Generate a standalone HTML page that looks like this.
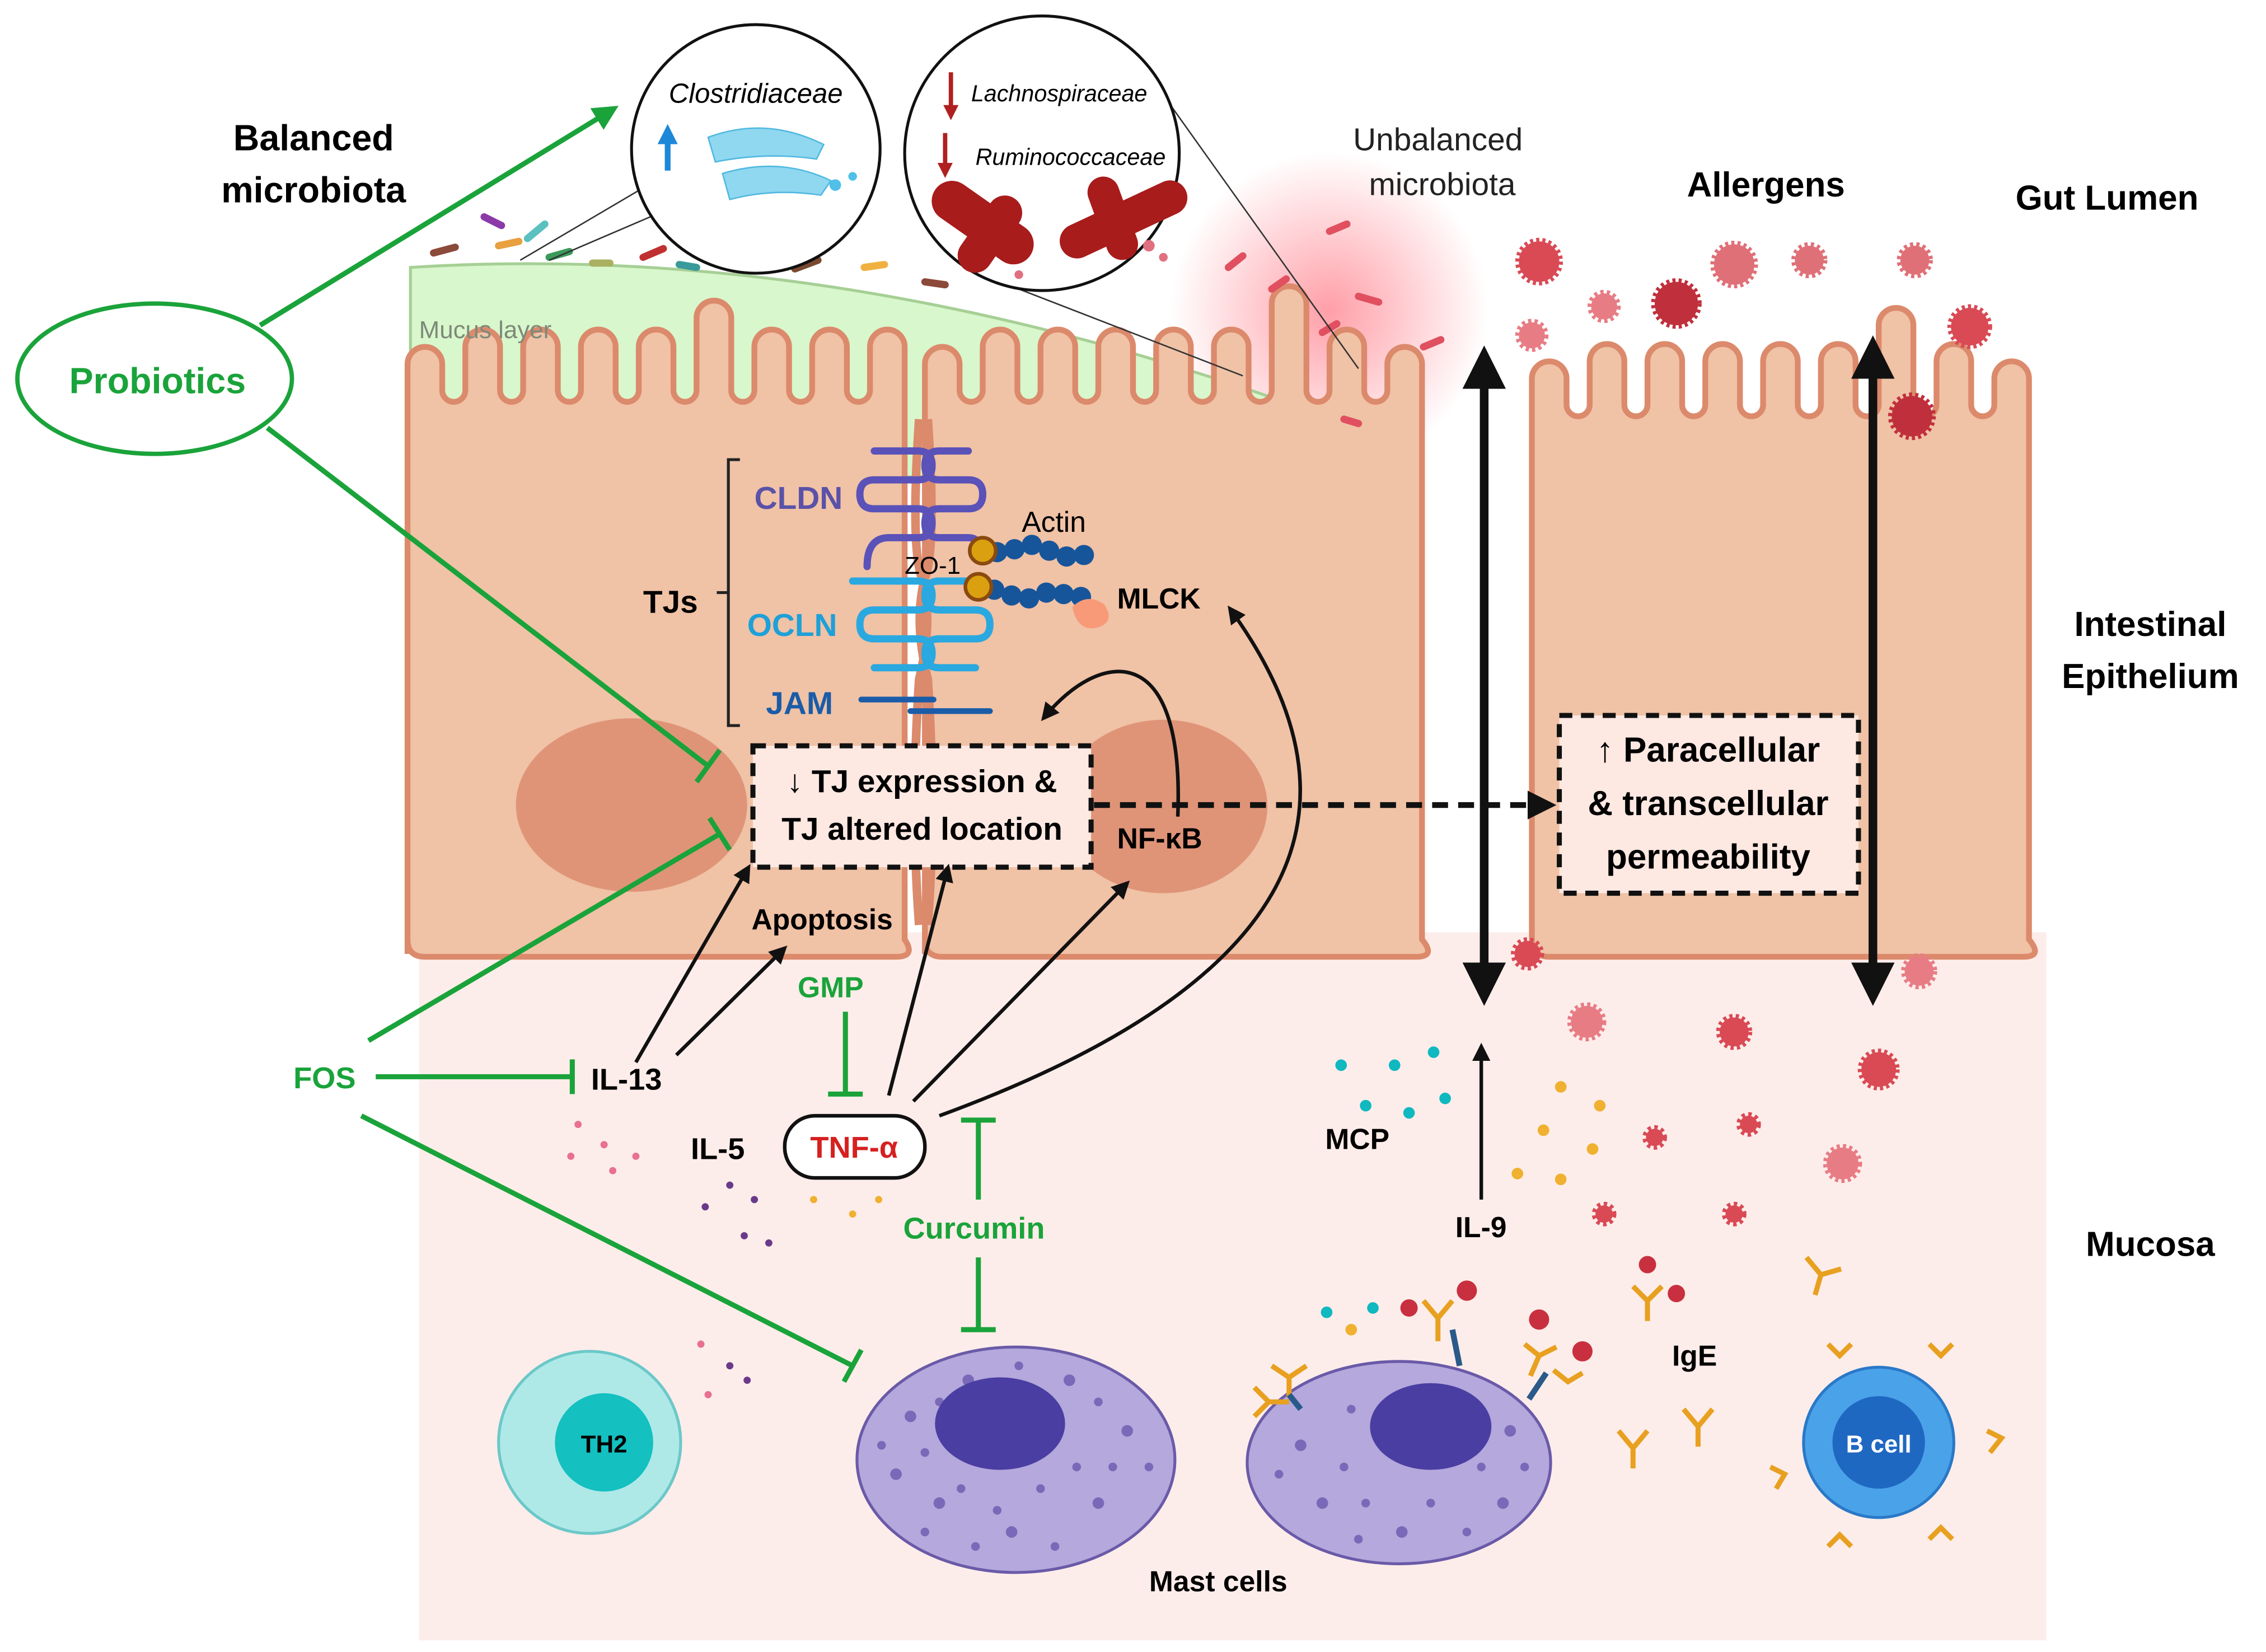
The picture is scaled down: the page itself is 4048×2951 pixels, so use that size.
<!DOCTYPE html>
<html><head><meta charset="utf-8"><style>
html,body{margin:0;padding:0;background:#fff}
svg{display:block}
text{font-family:"Liberation Sans",Arial,sans-serif}
.b{font-weight:bold}
</style></head><body>
<svg width="4048" height="2951" viewBox="0 0 1568 1143" xmlns="http://www.w3.org/2000/svg">
<defs>
<radialGradient id="glow" cx="0.5" cy="0.5" r="0.5">
<stop offset="0" stop-color="#ff5060" stop-opacity="0.55"/>
<stop offset="1" stop-color="#ff5060" stop-opacity="0"/>
</radialGradient>
<marker id="ah" viewBox="0 0 10 10" refX="8" refY="5" markerWidth="5" markerHeight="5" orient="auto-start-reverse"><path d="M0 0L10 5L0 10z" fill="#111"/></marker>
<marker id="ahg" viewBox="0 0 10 10" refX="8" refY="5" markerWidth="5" markerHeight="5" orient="auto"><path d="M0 0L10 5L0 10z" fill="#1aa33a"/></marker>
<marker id="ahblue" viewBox="0 0 10 10" refX="7" refY="5" markerWidth="3.5" markerHeight="3.5" orient="auto"><path d="M0 0L10 5L0 10z" fill="#1e88d8"/></marker>
<marker id="ahred" viewBox="0 0 10 10" refX="7" refY="5" markerWidth="3.5" markerHeight="3.5" orient="auto"><path d="M0 0L10 5L0 10z" fill="#b02020"/></marker>
</defs>
<rect width="1568" height="1143" fill="#fff"/>
<rect x="290" y="645" width="1126" height="490" fill="#fdedea"/>
<circle cx="920" cy="215" r="110" fill="url(#glow)"/>
<path d="M284 185 Q600 165 948 300 L948 330 L284 330 Z" fill="#d8f7cc" stroke="#a6cf95" stroke-width="2"/>
<g fill="#f0c2a6" stroke="#dc8a6c" stroke-width="4">
<path d="M282 660 V270 v-18 a12 12 0 0 1 24 0 v18 a8 8 0 0 0 16 0 v-30 a12 12 0 0 1 24 0 v30 a8 8 0 0 0 16 0 v-30 a12 12 0 0 1 24 0 v30 a8 8 0 0 0 16 0 v-30 a12 12 0 0 1 24 0 v30 a8 8 0 0 0 16 0 v-30 a12 12 0 0 1 24 0 v30 a8 8 0 0 0 16 0 v-50 a12 12 0 0 1 24 0 v50 a8 8 0 0 0 16 0 v-30 a12 12 0 0 1 24 0 v30 a8 8 0 0 0 16 0 v-30 a12 12 0 0 1 24 0 v30 a8 8 0 0 0 16 0 v-30 a12 12 0 0 1 24 0 V650 Q634 662 620 662 H294 Q282 662 282 650 Z"/>
<path d="M640 660 V270 v-18 a12 12 0 0 1 24 0 v18 a8 8 0 0 0 16 0 v-30 a12 12 0 0 1 24 0 v30 a8 8 0 0 0 16 0 v-30 a12 12 0 0 1 24 0 v30 a8 8 0 0 0 16 0 v-30 a12 12 0 0 1 24 0 v30 a8 8 0 0 0 16 0 v-30 a12 12 0 0 1 24 0 v30 a8 8 0 0 0 16 0 v-30 a12 12 0 0 1 24 0 v30 a8 8 0 0 0 16 0 v-60 a12 12 0 0 1 24 0 v60 a8 8 0 0 0 16 0 v-30 a12 12 0 0 1 24 0 v30 a8 8 0 0 0 16 0 v-18 a12 12 0 0 1 24 0 V650 Q994 662 980 662 H652 Q640 662 640 650 Z"/>
<path d="M1060 660 V280 v-18 a12 12 0 0 1 24 0 v18 a8 8 0 0 0 16 0 v-30 a12 12 0 0 1 24 0 v30 a8 8 0 0 0 16 0 v-30 a12 12 0 0 1 24 0 v30 a8 8 0 0 0 16 0 v-30 a12 12 0 0 1 24 0 v30 a8 8 0 0 0 16 0 v-30 a12 12 0 0 1 24 0 v30 a8 8 0 0 0 16 0 v-30 a12 12 0 0 1 24 0 v30 a8 8 0 0 0 16 0 v-55 a12 12 0 0 1 24 0 v55 a8 8 0 0 0 16 0 v-30 a12 12 0 0 1 24 0 v30 a8 8 0 0 0 16 0 v-18 a12 12 0 0 1 24 0 V650 Q1414 662 1400 662 H1072 Q1060 662 1060 650 Z"/>
</g>
<ellipse cx="437" cy="557" rx="80" ry="60" fill="#df9478"/>
<ellipse cx="805" cy="558" rx="72" ry="60" fill="#df9478"/>
<text x="290" y="234" font-size="17" fill="#7d8a78">Mucus layer</text>
<g stroke-linecap="round" stroke-width="5" fill="none">
<path d="M300 175 l15 -4" stroke="#8b4a3a"/><path d="M335 150 l12 6" stroke="#8b3aa8"/><path d="M345 170 l14 -3" stroke="#e8a040"/>
<path d="M365 165 l12 -10" stroke="#5bc0c0"/><path d="M380 178 l14 -4" stroke="#3a9a5a"/><path d="M410 182 l12 0" stroke="#aab060"/>
<path d="M445 178 l14 -6" stroke="#c03030"/><path d="M470 183 l12 2" stroke="#3a9a9a"/><path d="M520 180 l12 -3" stroke="#888"/>
<path d="M550 186 l16 -6" stroke="#7a4a30"/><path d="M598 185 l14 -2" stroke="#f0b040"/><path d="M640 195 l14 2" stroke="#8b4a3a"/>
<path d="M850 185 l10 -8" stroke="#e05060"/><path d="M880 200 l10 -7" stroke="#e05060"/><path d="M920 160 l12 -5" stroke="#e05060"/>
<path d="M940 205 l14 4" stroke="#e05060"/><path d="M915 230 l10 -6" stroke="#e05060"/><path d="M985 240 l12 -5" stroke="#e05060"/><path d="M930 290 l10 3" stroke="#e05060"/>
</g>
<line x1="360" y1="180" x2="445" y2="130" stroke="#333" stroke-width="1"/>
<line x1="380" y1="180" x2="450" y2="150" stroke="#333" stroke-width="1"/>
<circle cx="523" cy="103" r="86" fill="#fff" stroke="#111" stroke-width="2"/>
<text x="523" y="71" font-size="19" font-style="italic" text-anchor="middle">Clostridiaceae</text>
<path d="M462 118 V90" stroke="#1e88d8" stroke-width="4" marker-end="url(#ahblue)"/>
<path d="M490 95 Q530 80 570 100 L565 110 Q530 105 495 112 Z" fill="#8fd8f0" stroke="#50b8e0"/>
<path d="M500 120 Q540 108 575 125 L568 135 Q535 130 505 138 Z" fill="#8fd8f0" stroke="#50b8e0"/>
<circle cx="578" cy="128" r="4" fill="#50c0e8"/><circle cx="590" cy="122" r="3" fill="#50c0e8"/>
<line x1="808" y1="70" x2="940" y2="255" stroke="#333" stroke-width="1"/>
<line x1="700" y1="198" x2="860" y2="260" stroke="#333" stroke-width="1"/>
<circle cx="721" cy="106" r="95" fill="#fff" stroke="#111" stroke-width="2"/>
<path d="M658 50 V80" stroke="#b02020" stroke-width="3" marker-end="url(#ahred)"/>
<path d="M654 92 V120" stroke="#b02020" stroke-width="3" marker-end="url(#ahred)"/>
<text x="672" y="70" font-size="16" font-style="italic">Lachnospiraceae</text>
<text x="675" y="114" font-size="16" font-style="italic">Ruminococcaceae</text>
<g fill="#a81c1c"><rect x="640" y="140" width="80" height="28" rx="14" transform="rotate(35 680 154)"/><rect x="655" y="150" width="60" height="24" rx="12" transform="rotate(-55 685 162)"/>
<rect x="730" y="140" width="95" height="24" rx="12" transform="rotate(-25 777 152)"/><rect x="740" y="140" width="60" height="22" rx="11" transform="rotate(70 770 151)"/></g>
<circle cx="795" cy="170" r="4" fill="#e07080"/><circle cx="805" cy="178" r="3" fill="#e07080"/><circle cx="705" cy="190" r="3" fill="#e07080"/>
<text x="217" y="104" font-size="25" class="b" text-anchor="middle">Balanced</text>
<text x="217" y="140" font-size="25" class="b" text-anchor="middle">microbiota</text>
<text x="995" y="104" font-size="22" text-anchor="middle" fill="#222">Unbalanced</text>
<text x="998" y="135" font-size="22" text-anchor="middle" fill="#222">microbiota</text>
<text x="1222" y="136" font-size="24" class="b" text-anchor="middle">Allergens</text>
<text x="1458" y="145" font-size="24" class="b" text-anchor="middle">Gut Lumen</text>
<text x="1488" y="440" font-size="24" class="b" text-anchor="middle">Intestinal</text>
<text x="1488" y="476" font-size="24" class="b" text-anchor="middle">Epithelium</text>
<text x="1488" y="869" font-size="24" class="b" text-anchor="middle">Mucosa</text>
<g fill="#d94a55" stroke="#d94a55" stroke-width="5" stroke-dasharray="2 2">
<circle cx="1065" cy="181" r="14"/><circle cx="1110" cy="212" r="9" fill="#e87c84" stroke="#e87c84"/><circle cx="1160" cy="210" r="15" fill="#c0303c" stroke="#c0303c"/>
<circle cx="1200" cy="183" r="14" fill="#e07078" stroke="#e07078"/><circle cx="1252" cy="180" r="10" fill="#e07078" stroke="#e07078"/><circle cx="1325" cy="180" r="10" fill="#e07078" stroke="#e07078"/>
<circle cx="1363" cy="226" r="13"/><circle cx="1323" cy="288" r="14" fill="#c0303c" stroke="#c0303c"/><circle cx="1060" cy="232" r="9" fill="#e87c84" stroke="#e87c84"/>
<circle cx="1057" cy="660" r="9"/><circle cx="1328" cy="672" r="10" fill="#e87c84" stroke="#e87c84"/><circle cx="1098" cy="707" r="11" fill="#e87c84" stroke="#e87c84"/>
<circle cx="1200" cy="714" r="10"/><circle cx="1300" cy="740" r="12"/><circle cx="1145" cy="787" r="6"/><circle cx="1210" cy="778" r="6"/>
<circle cx="1275" cy="805" r="11" fill="#e87c84" stroke="#e87c84"/><circle cx="1110" cy="840" r="6"/><circle cx="1200" cy="840" r="6"/>
</g>
<path d="M512 318 h-8 V502 h8 M504 410 h-8" fill="none" stroke="#222" stroke-width="2"/>
<text x="445" y="424" font-size="22" class="b">TJs</text>
<text x="522" y="352" font-size="22" class="b" fill="#5a52a8">CLDN</text>
<text x="517" y="440" font-size="22" class="b" fill="#1ea0d8">OCLN</text>
<text x="530" y="494" font-size="22" class="b" fill="#1a5ca8">JAM</text>
<path d="M636 290 Q630 380 638 400 Q646 430 636 470 Q630 560 636 640" stroke="#dc8a6c" stroke-width="6" fill="none"/>
<path d="M642 290 Q648 380 640 400 Q632 430 642 470 Q648 560 642 640" stroke="#dc8a6c" stroke-width="6" fill="none"/>
<g fill="none" stroke-width="5" stroke-linecap="round">
<path d="M605 312 h30 q10 0 10 10 q0 10 -10 10 h-30 q-10 0 -10 10 q0 10 10 10 h30 q10 0 10 10 q0 10 -10 10 h-20 q-15 0 -15 20" stroke="#5a52b8"/>
<path d="M670 312 h-20 q-10 0 -10 10 q0 10 10 10 h20 q10 0 10 10 q0 10 -10 10 h-20 q-10 0 -10 10 q0 10 10 10 h20 q10 0 10 15" stroke="#5a52b8"/>
<path d="M590 402 h45 q10 0 10 10 q0 10 -10 10 h-30 q-10 0 -10 10 q0 10 10 10 h30 q10 0 10 10 q0 10 -10 10 h-30" stroke="#2aa8e0"/>
<path d="M675 402 h-25 q-10 0 -10 10 q0 10 10 10 h25 q10 0 10 10 q0 10 -10 10 h-25 q-10 0 -10 10 q0 10 10 10 h25" stroke="#2aa8e0"/>
<path d="M596 484 h50 M630 492 h55" stroke="#1a5ca8" stroke-width="4"/>
</g>
<g fill="#17559a"><circle cx="690" cy="382" r="7"/><circle cx="702" cy="380" r="7"/><circle cx="714" cy="377" r="7"/><circle cx="726" cy="381" r="7"/><circle cx="738" cy="385" r="7"/><circle cx="750" cy="384" r="7"/>
<circle cx="688" cy="408" r="7"/><circle cx="700" cy="412" r="7"/><circle cx="712" cy="414" r="7"/><circle cx="724" cy="410" r="7"/><circle cx="736" cy="411" r="7"/><circle cx="748" cy="413" r="7"/></g>
<path d="M742 420 q10 -10 22 -2 q8 12 -4 16 q-14 4 -18 -14z" fill="#f89a78"/>
<circle cx="680" cy="381" r="9" fill="#daa010" stroke="#8a4a10" stroke-width="2.5"/>
<circle cx="677" cy="406" r="9" fill="#daa010" stroke="#8a4a10" stroke-width="2.5"/>
<text x="707" y="368" font-size="20">Actin</text>
<text x="626" y="397" font-size="17">ZO-1</text>
<text x="773" y="421" font-size="20" class="b">MLCK</text>
<rect x="521" y="516" width="234" height="84" fill="#fde8e2" stroke="#111" stroke-width="3.5" stroke-dasharray="9 6"/>
<text x="638" y="548" font-size="22" class="b" text-anchor="middle">↓ TJ expression &amp;</text>
<text x="638" y="581" font-size="22" class="b" text-anchor="middle">TJ altered location</text>
<rect x="1079" y="495" width="207" height="123" fill="#fde8e2" stroke="#111" stroke-width="3.5" stroke-dasharray="9 6"/>
<text x="1182" y="527" font-size="24" class="b" text-anchor="middle">↑ Paracellular</text>
<text x="1182" y="564" font-size="24" class="b" text-anchor="middle">&amp; transcellular</text>
<text x="1182" y="601" font-size="24" class="b" text-anchor="middle">permeability</text>
<text x="773" y="587" font-size="20" class="b">NF-κB</text>
<text x="520" y="643" font-size="20" class="b">Apoptosis</text>
<g stroke="#111" stroke-width="2.5" fill="none" marker-end="url(#ah)">
<path d="M815 565 C820 440 760 450 722 497"/>
<path d="M440 735 L518 600"/>
<path d="M468 730 L543 656"/>
<path d="M615 758 L656 600"/>
<path d="M632 762 L780 611"/>
<path d="M650 772 Q1010 640 851 421"/>
<path d="M1025 830 V724"/>
</g>
<path d="M757 557 H1073" stroke="#111" stroke-width="4" stroke-dasharray="11 7" fill="none" marker-end="url(#ah)"/>
<path d="M1027 245 V690" stroke="#111" stroke-width="6" fill="none" marker-start="url(#ah)" marker-end="url(#ah)"/>
<path d="M1296 238 V690" stroke="#111" stroke-width="6" fill="none" marker-start="url(#ah)" marker-end="url(#ah)"/>
<ellipse cx="107" cy="262" rx="95" ry="52" fill="#fff" stroke="#1aa33a" stroke-width="3"/>
<text x="109" y="272" font-size="25" class="b" fill="#1aa33a" text-anchor="middle">Probiotics</text>
<g stroke="#1aa33a" stroke-width="3.5" fill="none">
<path d="M180 225 L425 75" marker-end="url(#ahg)"/>
<path d="M185 296 L490 530 M482 541 L498 519"/>
<path d="M255 720 L498 577 M491 566 L505 588"/>
<path d="M260 745 H396 M396 733 V757"/>
<path d="M250 772 L590 945 M584 956 L596 934"/>
<path d="M585 700 V757 M573 757 H597"/>
<path d="M677 830 V775 M665 775 H689"/>
<path d="M677 870 V920 M665 920 H689"/>
</g>
<text x="203" y="753" font-size="21" class="b" fill="#1aa33a">FOS</text>
<text x="552" y="690" font-size="20" class="b" fill="#1aa33a">GMP</text>
<text x="625" y="857" font-size="21" class="b" fill="#1aa33a">Curcumin</text>
<text x="409" y="754" font-size="21" class="b">IL-13</text>
<text x="478" y="802" font-size="21" class="b">IL-5</text>
<rect x="543" y="772" width="97" height="43" rx="21" fill="#fff" stroke="#111" stroke-width="2.5"/>
<text x="591" y="801" font-size="21" class="b" fill="#d62020" text-anchor="middle">TNF-α</text>
<text x="917" y="795" font-size="20" class="b">MCP</text>
<text x="1007" y="856" font-size="20" class="b">IL-9</text>
<text x="1157" y="945" font-size="20" class="b">IgE</text>
<text x="843" y="1101" font-size="20" class="b" text-anchor="middle">Mast cells</text>
<g fill="#e87090"><circle cx="400" cy="778" r="2.5"/><circle cx="418" cy="792" r="2.5"/><circle cx="440" cy="800" r="2.5"/><circle cx="395" cy="800" r="2.5"/><circle cx="424" cy="810" r="2.5"/><circle cx="485" cy="930" r="2.5"/><circle cx="490" cy="965" r="2.5"/></g>
<g fill="#6a3a8a"><circle cx="488" cy="835" r="2.5"/><circle cx="505" cy="820" r="2.5"/><circle cx="522" cy="830" r="2.5"/><circle cx="515" cy="855" r="2.5"/><circle cx="532" cy="860" r="2.5"/><circle cx="505" cy="945" r="2.5"/><circle cx="517" cy="955" r="2.5"/></g>
<g fill="#f0b030"><circle cx="563" cy="830" r="2.5"/><circle cx="590" cy="840" r="2.5"/><circle cx="608" cy="830" r="2.5"/><circle cx="1080" cy="752" r="4"/><circle cx="1107" cy="765" r="4"/><circle cx="1068" cy="782" r="4"/><circle cx="1102" cy="795" r="4"/><circle cx="1050" cy="812" r="4"/><circle cx="1080" cy="816" r="4"/><circle cx="935" cy="920" r="4"/></g>
<g fill="#10b8c0"><circle cx="928" cy="737" r="4"/><circle cx="965" cy="737" r="4"/><circle cx="992" cy="728" r="4"/><circle cx="945" cy="765" r="4"/><circle cx="975" cy="770" r="4"/><circle cx="1000" cy="760" r="4"/><circle cx="918" cy="908" r="4"/><circle cx="950" cy="905" r="4"/></g>
<circle cx="408" cy="998" r="63" fill="#aee9e8" stroke="#6cc8c8" stroke-width="2"/>
<circle cx="418" cy="998" r="34" fill="#14c0c0"/>
<text x="418" y="1005" font-size="17" class="b" text-anchor="middle">TH2</text>
<ellipse cx="703" cy="1010" rx="110" ry="78" fill="#b4a8dc" stroke="#6a5aa8" stroke-width="2"/>
<g fill="#7a68b8"><circle cx="630" cy="980" r="4"/><circle cx="650" cy="1040" r="4"/><circle cx="760" cy="1040" r="4"/><circle cx="780" cy="990" r="4"/><circle cx="700" cy="1060" r="4"/><circle cx="620" cy="1020" r="4"/><circle cx="740" cy="955" r="4"/><circle cx="670" cy="955" r="4"/>
<circle cx="610" cy="1000" r="3"/><circle cx="640" cy="1005" r="3"/><circle cx="665" cy="1030" r="3"/><circle cx="690" cy="1045" r="3"/><circle cx="720" cy="1030" r="3"/><circle cx="745" cy="1015" r="3"/><circle cx="770" cy="1015" r="3"/><circle cx="795" cy="1015" r="3"/><circle cx="730" cy="1070" r="3"/><circle cx="675" cy="1070" r="3"/><circle cx="640" cy="1060" r="3"/><circle cx="760" cy="970" r="3"/><circle cx="650" cy="970" r="3"/><circle cx="705" cy="945" r="3"/></g>
<ellipse cx="692" cy="985" rx="45" ry="32" fill="#4a3ea2"/>
<ellipse cx="968" cy="1012" rx="105" ry="70" fill="#b4a8dc" stroke="#6a5aa8" stroke-width="2"/>
<g fill="#7a68b8"><circle cx="900" cy="1000" r="4"/><circle cx="915" cy="1040" r="4"/><circle cx="1040" cy="1040" r="4"/><circle cx="1045" cy="990" r="4"/><circle cx="970" cy="1060" r="4"/>
<circle cx="885" cy="1020" r="3"/><circle cx="930" cy="1015" r="3"/><circle cx="945" cy="1040" r="3"/><circle cx="990" cy="1040" r="3"/><circle cx="1015" cy="1060" r="3"/><circle cx="1025" cy="1015" r="3"/><circle cx="935" cy="975" r="3"/><circle cx="1055" cy="1015" r="3"/><circle cx="940" cy="1065" r="3"/></g>
<ellipse cx="990" cy="987" rx="42" ry="30" fill="#4a3ea2"/>
<circle cx="1300" cy="998" r="52" fill="#4aa2e8" stroke="#2a78c8" stroke-width="2"/>
<circle cx="1300" cy="998" r="32" fill="#1f68c2"/>
<text x="1300" y="1005" font-size="17" class="b" fill="#fff" text-anchor="middle">B cell</text>
<g stroke="#e8a020" stroke-width="3.5" fill="none">
<path d="M868 960 l10 10 l-10 10 M878 970 h14"/><path d="M880 945 l12 8 l12 -8 M892 953 v14"/>
<path d="M985 900 l10 12 l10 -12 M995 912 v16"/><path d="M1055 930 l10 8 l12 -6 M1065 938 l-6 14"/><path d="M1075 948 l10 8 l10 -6"/>
<path d="M1120 990 l10 12 l10 -12 M1130 1002 v14"/><path d="M1165 975 l10 12 l10 -12 M1175 987 v14"/><path d="M1250 870 l10 12 l14 -4 M1260 882 l-4 14"/>
<path d="M1130 890 l10 10 l10 -10 M1140 900 v14"/><path d="M1265 930 l8 8 l8 -8"/><path d="M1335 930 l8 8 l8 -8"/><path d="M1225 1015 l10 5 l-6 10"/>
<path d="M1375 990 l10 5 l-8 10"/><path d="M1265 1070 l8 -8 l8 8"/><path d="M1335 1065 l8 -8 l8 8"/>
</g>
<g fill="#c83040"><circle cx="1015" cy="893" r="7"/><circle cx="1065" cy="913" r="7"/><circle cx="1095" cy="935" r="7"/><circle cx="1140" cy="875" r="6"/><circle cx="1160" cy="895" r="6"/><circle cx="975" cy="905" r="6"/></g>
<g stroke="#2a5a8a" stroke-width="4"><path d="M892 965 l8 10"/><path d="M1005 920 l5 25"/><path d="M1070 950 l-12 18"/></g>
</svg>
</body></html>
